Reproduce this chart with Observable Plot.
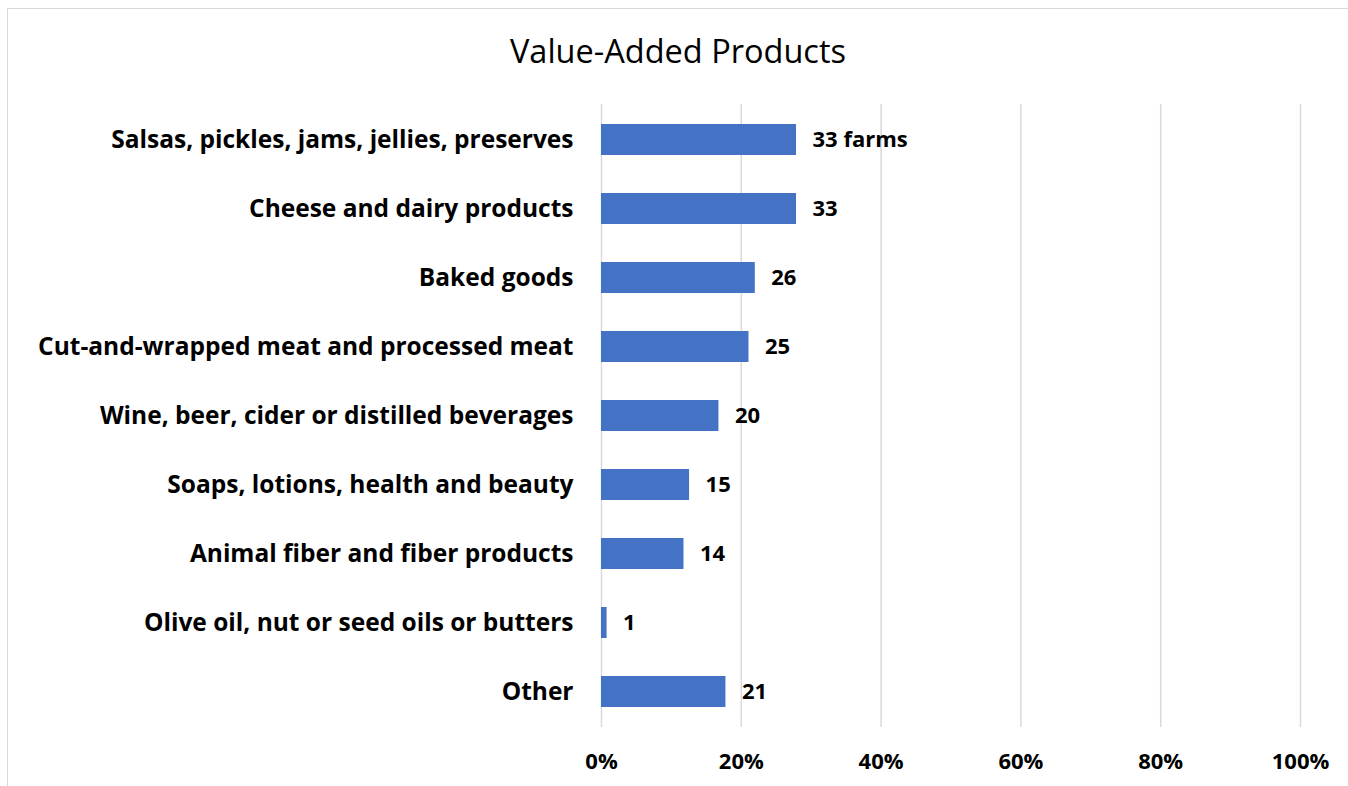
<!DOCTYPE html>
<html>
<head>
<meta charset="utf-8">
<script src="https://cdn.jsdelivr.net/npm/d3@7"></script>
<script src="https://cdn.jsdelivr.net/npm/@observablehq/plot@0.6"></script>
<style>
  html, body { margin: 0; padding: 0; background: #fff; }
  body { width: 1348px; height: 786px; overflow: hidden; position: relative; font-family: "Open Sans", sans-serif; }
  #frame { position: absolute; left: 7px; top: 8px; width: 1400px; height: 800px; border: 1px solid #d9d9d9; box-sizing: border-box; }
  #title { position: absolute; left: 0; top: 0; width: 1356px; height: 90px; text-align: center; font-size: 32.5px; line-height: 1; padding-top: 35px; box-sizing: border-box; color: #000; font-weight: 400; }
  #chart { position: absolute; left: 0; top: 90px; }
</style>
</head>
<body>
<div id="frame"></div>
<div id="title">Value-Added Products</div>
<div id="chart"></div>
<script>
const categories = [
  "Salsas, pickles, jams, jellies, preserves",
  "Cheese and dairy products",
  "Baked goods",
  "Cut-and-wrapped meat and processed meat",
  "Wine, beer, cider or distilled beverages",
  "Soaps, lotions, health and beauty",
  "Animal fiber and fiber products",
  "Olive oil, nut or seed oils or butters",
  "Other"
];
const percents = [27.9, 27.9, 22.0, 21.1, 16.8, 12.6, 11.8, 0.8, 17.8];
const farmLabels = ["33 farms", "33", "26", "25", "20", "15", "14", "1", "21"];
const xTicks = [0, 20, 40, 60, 80, 100];

const data = categories.map((c, i) => ({ category: c, pct: percents[i], label: farmLabels[i] }));

const chart = Plot.plot({
  width: 1348,
  height: 696,
  marginLeft: 601,
  marginRight: 48,
  marginTop: 14,
  marginBottom: 59,
  style: { fontFamily: "'Open Sans', sans-serif", background: "transparent", color: "#000" },
  x: { domain: [0, 100], ticks: xTicks, tickFormat: d => d + "%", label: null },
  y: { domain: categories, paddingInner: 0.55, paddingOuter: 0.275, label: null },
  marks: [
    Plot.ruleX(xTicks, { stroke: "#d9d9d9", strokeWidth: 1.5 }),
    Plot.barX(data, { x: "pct", y: "category", fill: "#4472c4" }),
    Plot.text(data, { x: "pct", y: "category", text: "label", textAnchor: "start", dx: 16, fontSize: 22, fontWeight: "bold", fill: "#000" }),
    Plot.axisY({ tickSize: 0, tickPadding: 28, fontSize: 24.5, fontWeight: "bold", label: null }),
    Plot.axisX({ ticks: xTicks, tickFormat: d => d + "%", tickSize: 0, tickPadding: 26, fontSize: 22, fontWeight: "bold", label: null })
  ]
});
document.getElementById("chart").appendChild(chart);
</script>
</body>
</html>
